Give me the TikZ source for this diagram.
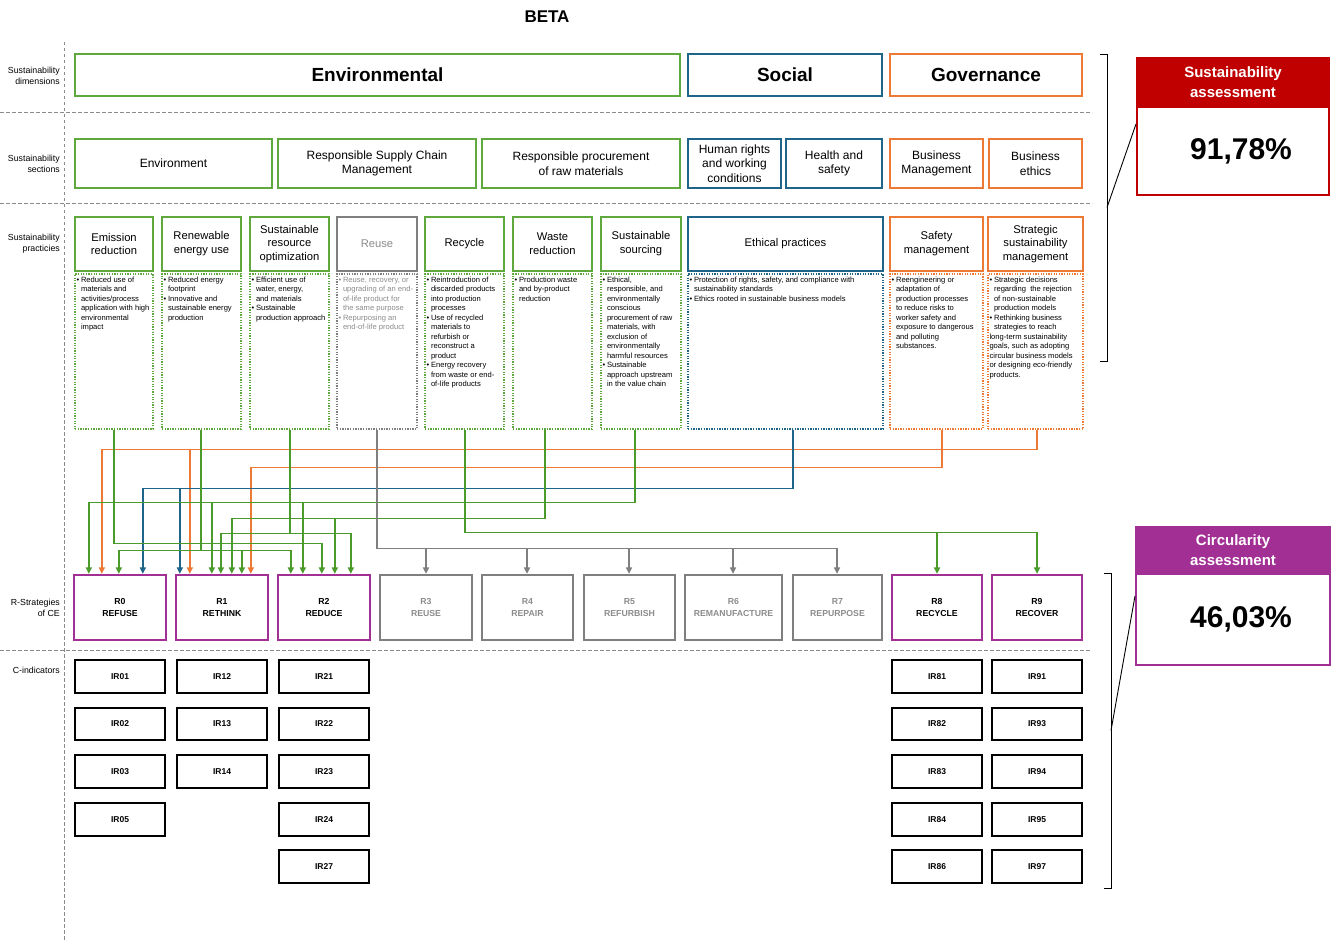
\documentclass[tikz,border=0pt]{standalone}
\usepackage{fontspec}
\setmainfont{Liberation Sans}
\usetikzlibrary{calc,arrows.meta}
\definecolor{cgreen}{HTML}{5EA83D}
\definecolor{cgreenA}{HTML}{4B9A2C}
\definecolor{cblue}{HTML}{1F6489}
\definecolor{corange}{HTML}{EC7A35}
\definecolor{cpurple}{HTML}{A22F94}
\definecolor{cred}{HTML}{C00000}
\definecolor{cgray}{HTML}{7F7F7F}
\definecolor{ctgray}{HTML}{8C8C8C}
\definecolor{cdash}{HTML}{8A8A8A}
\newcommand{\bl}{\makebox[4.5pt][l]{•}}
\newcommand{\ci}{\hspace*{4.5pt}}
\newcommand{\boxat}[7]{\node[#1, minimum width={(#4)-(#2)}, minimum height={(#5)-(#3)}] (#6) at ({((#2)+(#4))/2},{((#3)+(#5))/2}) {#7};}
\tikzset{
 dimbox/.style={draw, line width=2.3pt, inner sep=0pt, align=center, font=\fontsize{19}{22}\selectfont\bfseries},
 secbox/.style={draw, line width=2.3pt, inner sep=0pt, align=center, font=\fontsize{12}{14.5}\selectfont},
 hdbox/.style={draw, line width=2.3pt, inner sep=0pt, align=center, font=\fontsize{11.2}{13.8}\selectfont},
 dsbox/.style={draw, line width=1.4pt, dash pattern=on 1.3pt off 1.3pt, inner sep=0pt},
 dstext/.style={anchor=north west, inner sep=0pt, align=left, font=\fontsize{7.6}{9.45}\selectfont},
 rbox/.style={draw, line width=2.3pt, inner sep=0pt, align=center, font=\fontsize{8.7}{11.7}\selectfont\bfseries},
 irbox/.style={draw=black, line width=1.3pt, inner sep=0pt, align=center, font=\fontsize{8.5}{10}\selectfont\bfseries},
 rowlab/.style={anchor=east, inner sep=0pt, align=right, font=\fontsize{8.8}{11}\selectfont},
 sepline/.style={draw=cdash, line width=0.9pt, dash pattern=on 3.5pt off 2.5pt},
 conn/.style={line width=1.5pt, -{Triangle[length=6.5pt,width=6pt]}},
 brk/.style={draw=black, line width=0.9pt},
}
\begin{document}
\begin{tikzpicture}[x=1pt,y=-1pt]
\useasboundingbox (0,0) rectangle (1332,941);
\fill[white] (0,0) rectangle (1332,941);

% separators
\draw[sepline] (64,42) -- (64,941);
\draw[sepline] (0,112) -- (1092,112);
\draw[sepline] (0,203) -- (1092,203);
\draw[sepline] (0,650) -- (1092,650);

% title
\node[font=\fontsize{17}{20}\selectfont\bfseries] (title) at (547,17) {BETA};

% row labels
\node[rowlab] (l1) at (60,75.5) {Sustainability\\dimensions};
\node[rowlab] (l2) at (60,163.5) {Sustainability\\sections};
\node[rowlab] (l3) at (60,243.5) {Sustainability\\practicies};
\node[rowlab] (l4) at (60,607.5) {R-Strategies\\of CE};
\node[rowlab] (l5) at (60,670) {C-indicators};

% dimensions
\boxat{dimbox,draw=cgreen}{75}{54}{680}{96}{dEnv}{Environmental}
\boxat{dimbox,draw=cblue}{688}{54}{882}{96}{dSoc}{Social}
\boxat{dimbox,draw=corange}{890}{54}{1082}{96}{dGov}{Governance}

% sections
\boxat{secbox,draw=cgreen}{75}{139}{272}{188}{s1}{Environment}
\boxat{secbox,draw=cgreen}{278}{139}{476}{188}{s2}{Responsible Supply Chain\\Management}
\boxat{secbox,draw=cgreen}{482}{139}{680}{188}{s3}{Responsible procurement\\of raw materials}
\boxat{secbox,draw=cblue}{688}{139}{781}{188}{s4}{Human rights\\and working\\conditions}
\boxat{secbox,draw=cblue}{786}{139}{882}{188}{s5}{Health and\\safety}
\boxat{secbox,draw=corange}{890}{139}{983}{188}{s6}{Business\\Management}
\boxat{secbox,draw=corange}{989}{139}{1082}{188}{s7}{Business\\ethics}

% practice headers
\boxat{hdbox,draw=cgreen}{75}{217}{153}{271}{h1}{Emission\\reduction}
\boxat{hdbox,draw=cgreen}{162}{217}{241}{271}{h2}{Renewable\\energy use}
\boxat{hdbox,draw=cgreen}{250}{217}{329}{271}{h3}{Sustainable\\resource\\optimization}
\boxat{hdbox,draw=cgray,text=ctgray}{337}{217}{417}{271}{h4}{Reuse}
\boxat{hdbox,draw=cgreen}{425}{217}{504}{271}{h5}{Recycle}
\boxat{hdbox,draw=cgreen}{513}{217}{592}{271}{h6}{Waste\\reduction}
\boxat{hdbox,draw=cgreen}{601}{217}{681}{271}{h7}{Sustainable\\sourcing}
\boxat{hdbox,draw=cblue}{688}{217}{883}{271}{h8}{Ethical practices}
\boxat{hdbox,draw=corange}{890}{217}{983}{271}{h9}{Safety\\management}
\boxat{hdbox,draw=corange}{988}{217}{1083}{271}{h10}{Strategic\\sustainability\\management}

% practice descriptions
\boxat{dsbox,draw=cgreen}{75}{274}{153}{429}{d1}{}
\boxat{dsbox,draw=cgreen}{162}{274}{241}{429}{d2}{}
\boxat{dsbox,draw=cgreen}{250}{274}{329}{429}{d3}{}
\boxat{dsbox,draw=cgray}{337}{274}{417}{429}{d4}{}
\boxat{dsbox,draw=cgreen}{425}{274}{504}{429}{d5}{}
\boxat{dsbox,draw=cgreen}{513}{274}{592}{429}{d6}{}
\boxat{dsbox,draw=cgreen}{601}{274}{681}{429}{d7}{}
\boxat{dsbox,draw=cblue}{688}{274}{883}{429}{d8}{}
\boxat{dsbox,draw=corange}{890}{274}{983}{429}{d9}{}
\boxat{dsbox,draw=corange}{988}{274}{1083}{429}{d10}{}

\node[dstext] (t1) at ([xshift=2pt,yshift=-3.5pt]d1.north west) {\bl Reduced use of\\\ci materials and\\\ci activities/process\\\ci application with high\\\ci environmental\\\ci impact};
\node[dstext] (t2) at ([xshift=2pt,yshift=-3.5pt]d2.north west) {\bl Reduced energy\\\ci footprint\\\bl Innovative and\\\ci sustainable energy\\\ci production};
\node[dstext] (t3) at ([xshift=2pt,yshift=-3.5pt]d3.north west) {\bl Efficient use of\\\ci water, energy,\\\ci and materials\\\bl Sustainable\\\ci production approach};
\node[dstext,text=ctgray] (t4) at ([xshift=2pt,yshift=-3.5pt]d4.north west) {\bl Reuse, recovery, or\\\ci upgrading of an end-\\\ci of-life product for\\\ci the same purpose\\\bl Repurposing an\\\ci end-of-life product};
\node[dstext] (t5) at ([xshift=2pt,yshift=-3.5pt]d5.north west) {\bl Reintroduction of\\\ci discarded products\\\ci into production\\\ci processes\\\bl Use of recycled\\\ci materials to\\\ci refurbish or\\\ci reconstruct a\\\ci product\\\bl Energy recovery\\\ci from waste or end-\\\ci of-life products};
\node[dstext] (t6) at ([xshift=2pt,yshift=-3.5pt]d6.north west) {\bl Production waste\\\ci and by-product\\\ci reduction};
\node[dstext] (t7) at ([xshift=2pt,yshift=-3.5pt]d7.north west) {\bl Ethical,\\\ci responsible, and\\\ci environmentally\\\ci conscious\\\ci procurement of raw\\\ci materials, with\\\ci exclusion of\\\ci environmentally\\\ci harmful resources\\\bl Sustainable\\\ci approach upstream\\\ci in the value chain};
\node[dstext] (t8) at ([xshift=2pt,yshift=-3.5pt]d8.north west) {\bl Protection of rights, safety, and compliance with\\\ci sustainability standards\\\bl Ethics rooted in sustainable business models};
\node[dstext] (t9) at ([xshift=2pt,yshift=-3.5pt]d9.north west) {\bl Reengineering or\\\ci adaptation of\\\ci production processes\\\ci to reduce risks to\\\ci worker safety and\\\ci exposure to dangerous\\\ci and polluting\\\ci substances.};
\node[dstext] (t10) at ([xshift=2pt,yshift=-3.5pt]d10.north west) {\bl Strategic decisions\\\ci regarding\ \ the rejection\\\ci of non-sustainable\\\ci production models\\\bl Rethinking business\\\ci strategies to reach\\long-term sustainability\\goals, such as adopting\\circular business models\\or designing eco-friendly\\products.};

% R-strategies
\boxat{rbox,draw=cpurple}{74}{575}{166}{640}{r0}{R0\\REFUSE}
\boxat{rbox,draw=cpurple}{176}{575}{268}{640}{r1}{R1\\RETHINK}
\boxat{rbox,draw=cpurple}{278}{575}{370}{640}{r2}{R2\\REDUCE}
\boxat{rbox,draw=cgray,text=ctgray}{380}{575}{472}{640}{r3}{R3\\REUSE}
\boxat{rbox,draw=cgray,text=ctgray}{482}{575}{573}{640}{r4}{R4\\REPAIR}
\boxat{rbox,draw=cgray,text=ctgray}{584}{575}{675}{640}{r5}{R5\\REFURBISH}
\boxat{rbox,draw=cgray,text=ctgray}{685}{575}{782}{640}{r6}{R6\\REMANUFACTURE}
\boxat{rbox,draw=cgray,text=ctgray}{793}{575}{882}{640}{r7}{R7\\REPURPOSE}
\boxat{rbox,draw=cpurple}{892}{575}{982}{640}{r8}{R8\\RECYCLE}
\boxat{rbox,draw=cpurple}{992}{575}{1082}{640}{r9}{R9\\RECOVER}

% C-indicators
\boxat{irbox}{75}{660}{165}{693}{i01}{IR01}
\boxat{irbox}{75}{708}{165}{740}{i02}{IR02}
\boxat{irbox}{75}{755}{165}{788}{i03}{IR03}
\boxat{irbox}{75}{803}{165}{836}{i05}{IR05}
\boxat{irbox}{177}{660}{267}{693}{i12}{IR12}
\boxat{irbox}{177}{708}{267}{740}{i13}{IR13}
\boxat{irbox}{177}{755}{267}{788}{i14}{IR14}
\boxat{irbox}{279}{660}{369}{693}{i21}{IR21}
\boxat{irbox}{279}{708}{369}{740}{i22}{IR22}
\boxat{irbox}{279}{755}{369}{788}{i23}{IR23}
\boxat{irbox}{279}{803}{369}{836}{i24}{IR24}
\boxat{irbox}{279}{850}{369}{883}{i27}{IR27}
\boxat{irbox}{892}{660}{982}{693}{i81}{IR81}
\boxat{irbox}{892}{708}{982}{740}{i82}{IR82}
\boxat{irbox}{892}{755}{982}{788}{i83}{IR83}
\boxat{irbox}{892}{803}{982}{836}{i84}{IR84}
\boxat{irbox}{892}{850}{982}{883}{i86}{IR86}
\boxat{irbox}{992}{660}{1082}{693}{i91}{IR91}
\boxat{irbox}{992}{708}{1082}{740}{i93}{IR93}
\boxat{irbox}{992}{755}{1082}{788}{i94}{IR94}
\boxat{irbox}{992}{803}{1082}{836}{i95}{IR95}
\boxat{irbox}{992}{850}{1082}{883}{i97}{IR97}

% connectors
% Strategic sustainability management
\draw[conn,corange] ([xshift=1.5pt]d10.south) -- ++(0,20) -| ([xshift=29pt]r0.north west);
\draw[conn,corange] ([xshift=1.5pt]d10.south) -- ++(0,20) -| ([xshift=15pt]r1.north west);
% Safety management
\draw[conn,corange] ([xshift=5.5pt]d9.south) -- ++(0,38) -| ([xshift=76pt]r1.north west);
% Ethical practices
\draw[conn,cblue] ([xshift=7.5pt]d8.south) -- ++(0,59) -| ([xshift=70pt]r0.north west);
\draw[conn,cblue] ([xshift=7.5pt]d8.south) -- ++(0,59) -| ([xshift=5pt]r1.north west);
% Sustainable sourcing
\draw[conn,cgreenA] ([xshift=-6pt]d7.south) -- ++(0,73) -| ([xshift=16pt]r0.north west);
\draw[conn,cgreenA] ([xshift=-6pt]d7.south) -- ++(0,73) -| ([xshift=37pt]r1.north west);
\draw[conn,cgreenA] ([xshift=-6pt]d7.south) -- ++(0,73) -| ([xshift=26pt]r2.north west);
% Waste reduction
\draw[conn,cgreenA] ([xshift=-7.5pt]d6.south) -- ++(0,89) -| ([xshift=57pt]r1.north west);
\draw[conn,cgreenA] ([xshift=-7.5pt]d6.south) -- ++(0,89) -| ([xshift=58pt]r2.north west);
% Recycle
\draw[conn,cgreenA] ([xshift=0.5pt]d5.south) -- ++(0,103) -| (r8.north);
\draw[conn,cgreenA] ([xshift=0.5pt]d5.south) -- ++(0,103) -| (r9.north);
% Sustainable resource optimization
\draw[conn,cgreenA] ([xshift=0.5pt]d3.south) -- ++(0,104) -| ([xshift=46pt]r1.north west);
\draw[conn,cgreenA] ([xshift=0.5pt]d3.south) -- ++(0,104) -| ([xshift=74pt]r2.north west);
% Emission reduction
\draw[conn,cgreenA] (d1.south) -- ++(0,114) -| ([xshift=45pt]r2.north west);
% Reuse
\draw[conn,cgray] (d4.south) -- ++(0,119) -| (r3.north);
\draw[conn,cgray] (d4.south) -- ++(0,119) -| ([xshift=-0.5pt]r4.north);
\draw[conn,cgray] (d4.south) -- ++(0,119) -| ([xshift=-0.5pt]r5.north);
\draw[conn,cgray] (d4.south) -- ++(0,119) -| ([xshift=-0.5pt]r6.north);
\draw[conn,cgray] (d4.south) -- ++(0,119) -| ([xshift=-0.5pt]r7.north);
% Renewable energy use
\draw[conn,cgreenA] ([xshift=-0.5pt]d2.south) -- ++(0,121) -| ([xshift=46pt]r0.north west);
\draw[conn,cgreenA] ([xshift=-0.5pt]d2.south) -- ++(0,121) -| ([xshift=67pt]r1.north west);
\draw[conn,cgreenA] ([xshift=-0.5pt]d2.south) -- ++(0,121) -| ([xshift=14pt]r2.north west);

% assessments
\boxat{draw=cred,fill=cred,line width=2pt,text=white,align=center,inner sep=0pt,font=\fontsize{15}{20}\selectfont\bfseries}{1137}{58}{1329}{107}{sah}{Sustainability\\assessment}
\boxat{draw=cred,fill=white,line width=2pt,inner sep=0pt,font=\fontsize{30}{34}\selectfont\bfseries}{1137}{107}{1329}{195}{sab}{\hspace*{16pt}91,78\%}
\boxat{draw=cpurple,fill=cpurple,line width=2pt,text=white,align=center,inner sep=0pt,font=\fontsize{15}{20}\selectfont\bfseries}{1136}{527}{1330}{574}{cah}{Circularity\\assessment}
\boxat{draw=cpurple,fill=white,line width=2pt,inner sep=0pt,font=\fontsize{30}{34}\selectfont\bfseries}{1136}{574}{1330}{665}{cab}{\hspace*{16pt}46,03\%}

% brackets
\draw[brk] (1100,54) -- (1107,54) -- (1107,361) -- (1100,361);
\coordinate (bt) at (1107,207.5);
\draw[brk] (bt) -- ($(sab.north west)+(0,18)$);
\draw[brk] (1104,573) -- (1111,573) -- (1111,888) -- (1104,888);
\coordinate (bb) at (1111,730.5);
\draw[brk] (bb) -- ($(cab.north west)+(0,23)$);
\end{tikzpicture}
\end{document}
